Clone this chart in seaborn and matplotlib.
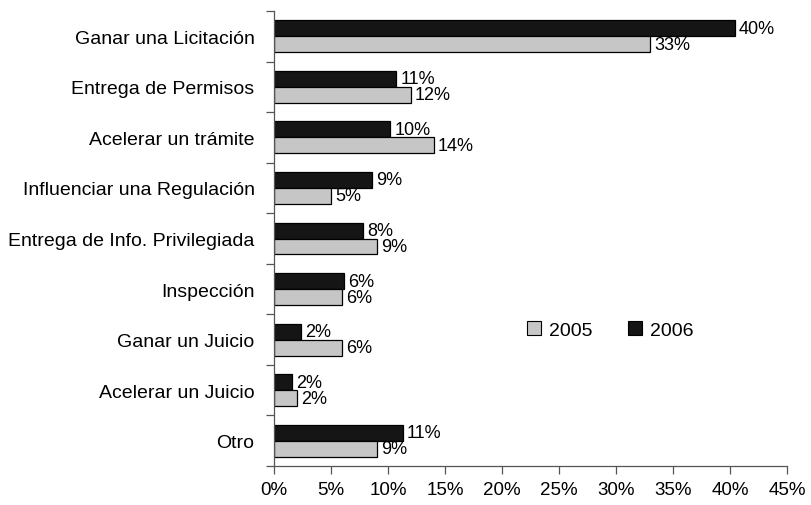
import numpy as np
import pandas as pd
import matplotlib
matplotlib.use("Agg")
import matplotlib.pyplot as plt
import seaborn as sns
from matplotlib.patches import Patch

# ─── Data ───────────────────────────────────────────────────────────────────
categories = [
    'Ganar una Licitación',
    'Entrega de Permisos',
    'Acelerar un trámite',
    'Influenciar una Regulación',
    'Entrega de Info. Privilegiada',
    'Inspección',
    'Ganar un Juicio',
    'Acelerar un Juicio',
    'Otro',
]
values_2006 = [40.4, 10.7, 10.2, 8.6, 7.8, 6.1, 2.4, 1.6, 11.3]
values_2005 = [33.0, 12.0, 14.0, 5.0, 9.0, 6.0, 6.0, 2.0, 9.0]
years = ['2006', '2005']
x_ticks = [0, 5, 10, 15, 20, 25, 30, 35, 40, 45]

COLORS = {'2006': '#151515', '2005': '#c6c6c6'}

df = pd.DataFrame({
    'Motivo': categories * 2,
    'Valor': values_2006 + values_2005,
    'Año': ['2006'] * len(categories) + ['2005'] * len(categories),
})

# ─── Plot ───────────────────────────────────────────────────────────────────
sns.set_style('white')
plt.rcParams['font.family'] = ['Liberation Sans', 'DejaVu Sans']
plt.rcParams['text.color'] = 'black'
plt.rcParams['xtick.color'] = '#555555'
plt.rcParams['ytick.color'] = '#555555'
plt.rcParams['xtick.labelcolor'] = 'black'
plt.rcParams['ytick.labelcolor'] = 'black'

fig = plt.figure(figsize=(8.11, 5.06), dpi=100)
ax = fig.add_axes([274 / 811, 1 - 467 / 506, (787 - 274) / 811, (467 - 12) / 506])

sns.barplot(data=df, y='Motivo', x='Valor', hue='Año', hue_order=years,
            order=categories, palette=COLORS, orient='h', width=0.63,
            edgecolor='black', linewidth=0.9, saturation=1, legend=False, ax=ax)

for cont in ax.containers:
    ax.bar_label(cont, labels=[f"{b.get_width():.0f}%" for b in cont],
                 padding=3, fontsize=13, color='black')

ax.set_xlim(0, 45)
ax.set_ylim(len(categories) - 0.5, -0.5)
ax.set_xticks(x_ticks)
ax.set_xticklabels([f"{t}%" for t in x_ticks], fontsize=13.5)
ax.tick_params(axis='x', bottom=True, direction='out', length=6, width=0.9, pad=5)

# category labels without tick marks, tick marks at group boundaries
ax.set_yticks(range(len(categories)))
ax.set_yticklabels(categories, fontsize=14)
ax.set_yticks(np.arange(-0.5, len(categories)), minor=True)
ax.tick_params(axis='y', which='major', left=True, length=0, pad=14)
ax.tick_params(axis='y', which='minor', left=True, direction='out', length=6, width=0.9)
ax.set_xlabel('')
ax.set_ylabel('')

for side in ['top', 'right']:
    ax.spines[side].set_visible(False)
for side in ['left', 'bottom']:
    ax.spines[side].set_color('#555555')
    ax.spines[side].set_linewidth(0.9)

handles = [Patch(facecolor=COLORS[y], edgecolor='black', linewidth=0.8) for y in ['2005', '2006']]
ax.legend(handles, ['2005', '2006'], loc='center', ncol=2, frameon=False,
          bbox_to_anchor=(610 / 811, 1 - 331 / 506), bbox_transform=fig.transFigure,
          handlelength=0.75, handleheight=0.75, handletextpad=0.4,
          columnspacing=1.8, fontsize=14)

plt.savefig('out.png', dpi=100)
plt.close()
